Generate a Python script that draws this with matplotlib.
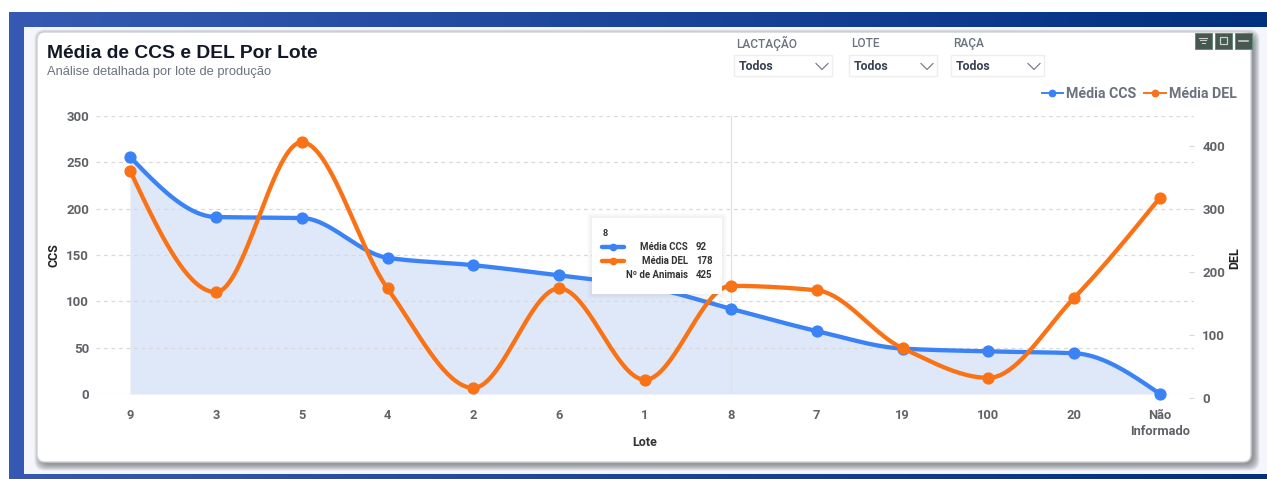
import numpy as np
import matplotlib
matplotlib.use("Agg")
import matplotlib.pyplot as plt
from matplotlib.lines import Line2D
from matplotlib.patches import FancyBboxPatch, Rectangle

lotes = ["9", "3", "5", "4", "2", "6", "1", "8", "7", "19", "100", "20", "Não\nInformado"]
media_ccs = [256, 191, 190, 147, 139, 128, 116, 92, 68, 49, 46, 44, 0]
media_del = [361, 168, 406, 174, 16, 174, 29, 178, 171, 79, 32, 159, 318]
ccs_ticks = [0, 50, 100, 150, 200, 250, 300]
del_ticks = [0, 100, 200, 300, 400]
filtros = ["LACTAÇÃO", "LOTE", "RAÇA"]
filtro_valor = "Todos"
tooltip_lote = "8"
tooltip_nomes = ["Média CCS", "Média DEL", "Nº de Animais"]
tooltip_valores = ["92", "178", "425"]

BLUE = "#3b82f6"
ORANGE = "#f97316"
W, H = 1267, 479
TXT = "#5f6368"
plt.rcParams["font.family"] = ["Roboto", "DejaVu Sans"]


def pchip(y, per=40):
    """Monotone cubic curve through the values, as the smoothed line of the chart."""
    y = np.asarray(y, float)
    d = np.diff(y)
    m = np.zeros_like(y)
    for i in range(1, len(y) - 1):
        if d[i - 1] * d[i] > 0:
            m[i] = 2 * d[i - 1] * d[i] / (d[i - 1] + d[i])
    m[0] = d[0] * 1.5 - m[1] * 0.5
    m[-1] = d[-1] * 1.5 - m[-2] * 0.5
    xs, ys = [], []
    for i in range(len(y) - 1):
        t = np.linspace(0, 1, per, endpoint=False)
        ys.append((2*t**3 - 3*t**2 + 1) * y[i] + (t**3 - 2*t**2 + t) * m[i]
                  + (-2*t**3 + 3*t**2) * y[i + 1] + (t**3 - t**2) * m[i + 1])
        xs.append(i + t)
    return np.append(np.concatenate(xs), len(y) - 1), np.append(np.concatenate(ys), y[-1])


fig = plt.figure(figsize=(W / 100, H / 100), dpi=100, facecolor="white")


def layer(z):
    a = fig.add_axes([0, 0, 1, 1], zorder=z, facecolor="none")
    a.set_xlim(0, W)
    a.set_ylim(H, 0)
    a.axis("off")
    return a


bg = layer(0)
fg = layer(10)

# banner gradient and light inner page
grad = np.linspace(0, 1, 256)[None, :, None]
c0 = np.array([0x36, 0x5a, 0xb3]) / 255
c1 = np.array([0x00, 0x30, 0x80]) / 255
bg.imshow(c0 + (c1 - c0) * grad, extent=[9, W, H, 12], aspect="auto", zorder=0)
bg.set_xlim(0, W)
bg.set_ylim(H, 0)
bg.add_patch(Rectangle((24, 27), W - 24, 447, fc="#f5f6fb", ec="none", zorder=1))

# card with soft shadow
for i in range(11, 0, -1):
    bg.add_patch(FancyBboxPatch((37 + 4 - i * .6, 32 + 4 - i * .6), 1214 + i * 1.2 - 2, 430 + i * 1.2 - 2,
                                boxstyle="round,pad=0,rounding_size=10", fc="#50555c", ec="none",
                                alpha=0.07, zorder=2))
bg.add_patch(FancyBboxPatch((37, 32), 1214, 430, boxstyle="round,pad=0,rounding_size=8",
                            fc="white", ec="#cfd0d3", lw=1.0, zorder=3))

# titles
fg.text(47, 53, "Média de CCS e DEL Por Lote", fontsize=13.9, fontweight="bold", color="#111827",
        family="Liberation Sans", va="center")
fg.text(47, 71.5, "Análise detalhada por lote de produção", fontsize=9.25, color="#6b7280",
        family="Liberation Sans", va="center")

# filters
for nome, x, w in zip(filtros, [736, 851, 953], [98, 88, 93]):
    fg.text(x, 43.5, nome, fontsize=8.6, color="#6b7280", va="center", fontweight="medium")
    fg.add_patch(Rectangle((x - 2, 55), w, 21, fc="white", ec="#eeeeee", lw=1))
    fg.text(x + 3, 66, filtro_valor, fontsize=8.9, color="#374151", va="center", fontweight="bold")
    cx = x + w - 12
    fg.plot([cx - 6, cx, cx + 6], [63.5, 69.5, 63.5], color="#6b7280", lw=0.8)

# toolbox icons
for x, w in [(1194.5, 17.5), (1215, 17), (1234.5, 17.5)]:
    fg.add_patch(Rectangle((x, 32.5), w, 16.5, fc="#46584f", ec="#5f8f7a", lw=0.7))
ICON = "#c8d0cc"
for half, yy in [(4, 37.5), (2.8, 40), (1.5, 42.5)]:
    fg.plot([1203.2 - half, 1203.2 + half], [yy, yy], color=ICON, lw=0.8)
fg.add_patch(Rectangle((1219.5, 37), 7.5, 7, fc="none", ec=ICON, lw=0.9))
fg.plot([1238.5, 1248], [41, 41], color=ICON, lw=1.2)

# main chart
L, R, T, B = 96, 1194, 116, 394
ax = fig.add_axes([L / W, 1 - B / H, (R - L) / W, (B - T) / H], zorder=5, facecolor="none")
step = (1160 - 130) / 12
ax.set_xlim(-(130 - L) / step, 12 + (R - 1160) / step)
ax.set_ylim(0, 300)
x_idx = np.arange(len(lotes))
sx, sy = pchip(media_ccs)
ax.fill_between(sx, 0, sy, color="#dfe8f8", lw=0, zorder=1)
ax.axvline(7, color="#dfe2e8", lw=0.9, zorder=1.5)
ax.set_yticks(ccs_ticks)
ax.yaxis.grid(True, color="#d9d9d9", ls=(0, (3, 3)), lw=0.9, zorder=1.2)
ax.set_axisbelow(False)
ax.set_xticks(x_idx)
ax.set_xticklabels(lotes, fontsize=9.3, color=TXT, fontweight="bold", linespacing=1.3)
ax.tick_params(axis="x", length=0, pad=11)
ax.tick_params(axis="y", length=0, pad=5, labelsize=9.5, labelcolor=TXT)
for lab in ax.get_yticklabels():
    lab.set_fontweight("bold")
for s in ax.spines.values():
    s.set_visible(False)
ax.plot(sx, sy, color=BLUE, lw=3.1, zorder=3, solid_capstyle="round")
ax.plot(x_idx, media_ccs, "o", color=BLUE, ms=7.8, zorder=3.1, clip_on=False)
ax.set_xlabel("Lote", fontsize=9, fontweight="bold", color="#333333", va="center")
ax.xaxis.set_label_coords(0.5, (B - 443) / (B - T))
ax.set_ylabel("CCS", fontsize=9, fontweight="bold", color="#222222", va="center")
ax.yaxis.set_label_coords((54 - L) / (R - L), 0.5)

# DEL axis: its zero lies a few pixels below the zero of the CCS axis
B2 = 398
ax2 = fig.add_axes([L / W, 1 - B2 / H, (R - L) / W, (B2 - T) / H], zorder=6, facecolor="none",
                   sharex=ax)
ppu = 0.63
ax2.set_ylim(0, (B2 - T) / ppu)
dx, dy = pchip(media_del)
ax2.plot(dx, dy, color=ORANGE, lw=3.1, zorder=3, solid_capstyle="round")
ax2.plot(x_idx, media_del, "o", color=ORANGE, ms=7.8, zorder=3.1, clip_on=False)
ax2.yaxis.tick_right()
ax2.yaxis.set_label_position("right")
ax2.set_yticks(del_ticks)
ax2.tick_params(axis="y", length=3.5, width=0.8, color="#d9d9d9", direction="in", pad=6,
                labelsize=9.5, labelcolor=TXT)
for lab in ax2.get_yticklabels():
    lab.set_fontweight("bold")
ax2.tick_params(axis="x", bottom=False, labelbottom=False)
for s in ax2.spines.values():
    s.set_visible(False)
ax2.set_ylabel("DEL", fontsize=9, fontweight="bold", color="#222222", va="center")
ax2.yaxis.set_label_coords((1235 - L) / (R - L), (B2 - 258) / (B2 - T))

# legend
h = [Line2D([], [], color=BLUE, lw=1.4, marker="o", ms=4.6),
     Line2D([], [], color=ORANGE, lw=1.4, marker="o", ms=4.6)]
leg = fig.legend(h, ["Média CCS", "Média DEL"], ncol=2, frameon=False, fontsize=10.2,
                 loc="center right", bbox_to_anchor=(1237 / W, 1 - 94 / H), handlelength=1.5,
                 handletextpad=0.25, columnspacing=0.55, borderpad=0, borderaxespad=0,
                 labelcolor="#6b7280")
for t in leg.get_texts():
    t.set_fontweight("bold")
leg.set_zorder(11)

# tooltip
for i in range(5, 0, -1):
    fg.add_patch(Rectangle((592 - i, 218 - i), 130 + 2 * i, 76 + 2 * i, fc="#888888", ec="none", alpha=0.025))
fg.add_patch(Rectangle((592, 218), 130, 76, fc="white", ec="none"))
fg.text(602.5, 233.5, tooltip_lote, fontsize=6.6, color="#333333", va="center", fontweight="bold")
for i, (n, v, yy) in enumerate(zip(tooltip_nomes, tooltip_valores, [247, 261, 275])):
    fg.text(688, yy, n, fontsize=6.9, color="#333333", va="center", ha="right", fontweight="bold")
    fg.text(696, yy, v, fontsize=6.9, color="#333333", va="center", fontweight="bold")
    if i < 2:
        col = [BLUE, ORANGE][i]
        fg.plot([602, 624], [yy, yy], color=col, lw=3.2, solid_capstyle="round")
        fg.plot([613], [yy], "o", color=col, ms=4.5)

fig.savefig("out.png", dpi=100)
